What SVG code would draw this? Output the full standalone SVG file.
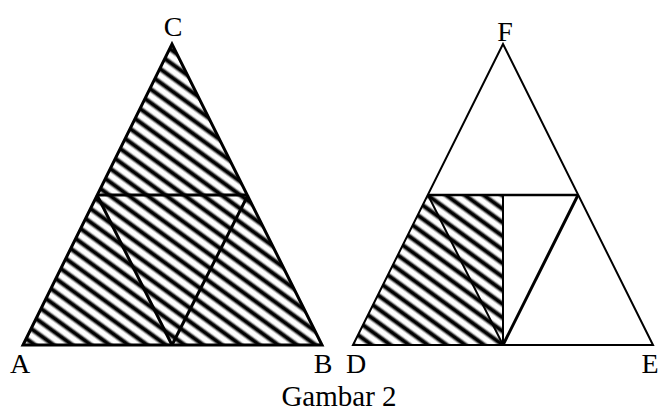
<svg xmlns="http://www.w3.org/2000/svg" width="660" height="412" viewBox="0 0 660 412">
  <style>
    .lbl { font-family: "Liberation Serif", "Times New Roman", serif; font-size: 28px; fill: #000; }
    .cap { font-family: "Liberation Serif", "Times New Roman", serif; font-size: 29px; fill: #000; }
    .thick { fill: none; stroke: #000; stroke-width: 3; stroke-linejoin: miter; stroke-linecap: butt; }
    .thin { fill: none; stroke: #000; stroke-width: 2; stroke-linejoin: miter; }
    .hatch { fill: url(#hatch); stroke: none; }
  </style>
  <defs>
    <linearGradient id="band" x1="0" y1="0" x2="0" y2="1">
      <stop offset="0" stop-color="#fff"/>
      <stop offset="0.2" stop-color="#fff"/>
      <stop offset="0.42" stop-color="#000"/>
      <stop offset="0.6" stop-color="#000"/>
      <stop offset="0.82" stop-color="#fff"/>
      <stop offset="1" stop-color="#fff"/>
    </linearGradient>
    <pattern id="hatch" patternUnits="userSpaceOnUse" width="40" height="11" patternTransform="rotate(36)">
      <rect x="0" y="0" width="40" height="11" fill="url(#band)"/>
    </pattern>
  </defs>

  <g id="triangle-ABC">
    <polygon class="hatch" points="23,345 322,345 172,44"/>
    <polygon class="thick" points="23,345 322,345 172,44"/>
  </g>
  <g id="triangle-DEF">
    <polygon class="hatch" points="353,345 428,195 503,195 503,345"/>
    <polygon class="thin" points="353,345 653,345 503,44"/>
  </g>

  <g id="connectors">
    <line class="thick" x1="97" y1="195" x2="248" y2="195"/>
    <line class="thick" x1="97" y1="195" x2="172" y2="345"/>
    <line class="thick" x1="172" y1="345" x2="248" y2="195"/>
    <line class="thin" x1="428" y1="195" x2="578" y2="195" style="stroke-width:2.5"/>
    <line class="thin" x1="428" y1="195" x2="503" y2="345"/>
    <line class="thin" x1="503" y1="345" x2="578" y2="195" style="stroke-width:3"/>
    <line class="thin" x1="503" y1="195" x2="503" y2="345"/>
  </g>

  <g id="labels">
    <text class="lbl" x="173" y="36" text-anchor="middle">C</text>
    <text class="lbl" x="20" y="373" text-anchor="middle">A</text>
    <text class="lbl" x="323" y="373" text-anchor="middle">B</text>
    <text class="lbl" x="505" y="41" text-anchor="middle">F</text>
    <text class="lbl" x="356" y="373" text-anchor="middle">D</text>
    <text class="lbl" x="650" y="373" text-anchor="middle">E</text>
    <text class="cap" x="339" y="406" text-anchor="middle">Gambar 2</text>
  </g>
</svg>
